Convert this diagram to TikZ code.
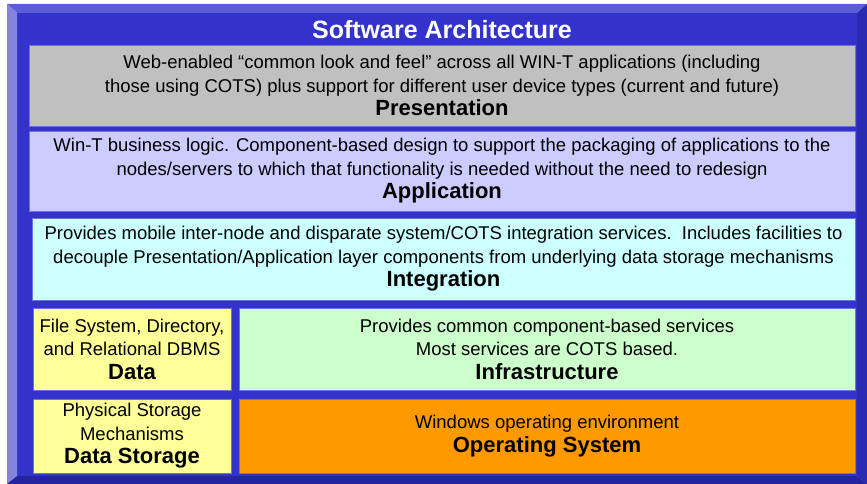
\documentclass[tikz,border=0pt]{standalone}
\usepackage{fontspec}
\setmainfont{Liberation Sans}
\definecolor{face}{HTML}{3333CC}
\definecolor{bevtop}{HTML}{5C5CD6}
\definecolor{bevleft}{HTML}{8484DC}
\definecolor{bevright}{HTML}{2A2AB0}
\definecolor{bevbot}{HTML}{24249E}
\definecolor{edge}{HTML}{7070E0}
\definecolor{presc}{HTML}{C0C0C0}
\definecolor{applc}{HTML}{CCCCFF}
\definecolor{integc}{HTML}{CCFFFF}
\definecolor{datac}{HTML}{FFFF99}
\definecolor{infrac}{HTML}{CCFFCC}
\definecolor{osc}{HTML}{FF9900}
\newcommand{\lname}[1]{{\fontsize{22}{25}\selectfont\bfseries #1}}
\tikzset{
  layer/.style={rectangle, draw=edge, line width=0.8pt, align=center, inner sep=0pt,
    font=\fontsize{18.5}{23.5}\selectfont},
}
\begin{document}
\begin{tikzpicture}[x=1pt, y=-1pt]
    \useasboundingbox (0,0) rectangle (867,484);

    % bevelled frame
    \fill[face] (17,13) rectangle (857,476);
    \fill[bevtop] (7,4) -- (867,4) -- (857,13) -- (17,13) -- cycle;
    \fill[bevleft] (7,4) -- (17,13) -- (17,476) -- (7,484) -- cycle;
    \fill[bevright] (867,4) -- (867,484) -- (857,476) -- (857,13) -- cycle;
    \fill[bevbot] (7,484) -- (867,484) -- (857,476) -- (17,476) -- cycle;

    \draw
    (442,30) node[white, font=\fontsize{25}{26}\selectfont\bfseries](title){Software Architecture}
    (442,85.5) node[layer, fill=presc, minimum width=826, minimum height=81](pres)
      {Web-enabled “common look and feel” across all WIN-T applications (including\\
       those using COTS) plus support for different user device types (current and future)\\
       \lname{Presentation}}
    (442,171) node[layer, fill=applc, minimum width=826, minimum height=80](appl)
      {Win-T business logic. Component-based design to support the packaging of applications to the\\
       nodes/servers to which that functionality is needed without the need to redesign\\
       \lname{Application}}
    (443.5,259) node[layer, fill=integc, minimum width=823, minimum height=82](integ)
      {Provides mobile inter-node and disparate system/COTS integration services.\ \ Includes facilities to\\
       decouple Presentation/Application layer components from underlying data storage mechanisms\\
       \lname{Integration}}
    (132,349) node[layer, fill=datac, minimum width=198, minimum height=82](data)
      {File System, Directory,\\
       and Relational DBMS\\
       \lname{Data}}
    (547,349) node[layer, fill=infrac, minimum width=616, minimum height=82](infra)
      {Provides common component-based services\\
       Most services are COTS based.\\
       \lname{Infrastructure}}
    (132,436) node[layer, fill=datac, minimum width=198, minimum height=74](store)
      {Physical Storage\\
       Mechanisms\\
       \lname{Data Storage}}
    (547,436) node[layer, fill=osc, minimum width=616, minimum height=74](opsys)
      {Windows operating environment\\
       \lname{Operating System}};

  \end{tikzpicture}
\end{document}
